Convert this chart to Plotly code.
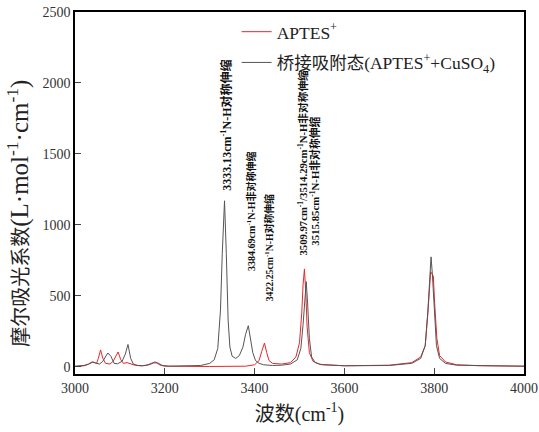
import plotly.graph_objects as go

# Wavenumber (cm^-1) and molar absorption coefficient
x_bridge = [3000, 3010, 3020, 3030, 3038, 3045, 3055, 3062, 3073, 3080, 3087, 3095, 3105, 3112, 3118,
            3124, 3130, 3140, 3150, 3160, 3170, 3178, 3186, 3195, 3210, 3250, 3280, 3300, 3310, 3318,
            3324, 3328, 3333, 3337, 3341, 3345, 3350, 3358, 3366, 3374, 3380, 3386, 3391, 3396, 3402,
            3410, 3420, 3440, 3460, 3480, 3495, 3503, 3508, 3512, 3515, 3518, 3522, 3527, 3535, 3550,
            3600, 3700, 3750, 3770, 3780, 3786, 3790, 3793, 3796, 3800, 3805, 3812, 3825, 3850, 3900, 4000]
y_bridge = [5, 6, 10, 20, 35, 28, 20, 40, 98, 75, 25, 22, 40, 90, 158,
            60, 20, 10, 8, 12, 25, 35, 25, 10, 5, 6, 10, 25, 50, 130,
            400, 800, 1170, 800, 330, 140, 75, 60, 80, 140, 230, 290, 200, 100, 45,
            25, 15, 10, 12, 20, 50, 130, 300, 520, 600, 450, 200, 70, 30, 15,
            8, 10, 25, 60, 150, 400, 680, 775, 650, 380, 150, 60, 25, 12, 8, 5]

x_aptes = [3000, 3020, 3030, 3040, 3048, 3052, 3057, 3062, 3068, 3078, 3085, 3096, 3102, 3108, 3116,
           3124, 3135, 3150, 3165, 3175, 3182, 3190, 3200, 3300, 3380, 3400, 3410, 3416, 3422, 3427,
           3432, 3440, 3460, 3480, 3492, 3500, 3505, 3508, 3511, 3514, 3517, 3522, 3530, 3545, 3600,
           3700, 3750, 3770, 3780, 3786, 3790, 3792, 3795, 3798, 3801, 3806, 3812, 3825, 3850, 3900, 4000]
y_aptes = [3, 8, 18, 35, 25, 60, 120, 60, 25, 20, 40, 105, 50, 25, 30,
           20, 10, 8, 15, 28, 28, 12, 5, 3, 5, 15, 45, 110, 168, 100,
           45, 25, 20, 30, 70, 170, 380, 580, 690, 520, 280, 100, 40, 18, 8,
           12, 30, 70, 150, 380, 640, 670, 655, 640, 450, 200, 80, 35, 15, 8, 5]

# Peak annotations: position of text start, label parts, font size
ann_x = [3337, 3393, 3432, 3507, 3535]
ann_y = [1225, 662, 451, 768, 838]
ann_num = ["3333.13cm<sup>-1</sup>", "3384.69cm<sup>-1</sup>", "3422.25cm<sup>-1</sup>",
           "3509.97cm<sup>-1</sup>/3514.29cm<sup>-1</sup>", "3515.85cm<sup>-1</sup>"]
ann_txt = ["N-H对称伸缩", "N-H非对称伸缩", "N-H对称伸缩", "N-H非对称伸缩", "N-H非对称伸缩"]
ann_size = [12, 10, 9.8, 10.7, 10.8]

x_ticks = [3000, 3200, 3400, 3600, 3800, 4000]
y_ticks = [0, 500, 1000, 1500, 2000, 2500]

SERIF = "Liberation Serif, Noto Sans CJK SC, serif"

fig = go.Figure()
fig.add_trace(go.Scatter(x=x_aptes, y=y_aptes, mode="lines", name="APTES<sup>+</sup>",
                         line=dict(color="#e8262b", width=1), legendgroup="a"))
fig.add_trace(go.Scatter(x=x_bridge, y=y_bridge, mode="lines",
                         name="桥接吸附态(APTES<sup>+</sup>+CuSO<sub>4</sub>)",
                         line=dict(color="#555555", width=1), legendgroup="b"))

for xa, ya, num, txt, sz in zip(ann_x, ann_y, ann_num, ann_txt, ann_size):
    fig.add_annotation(x=xa, y=ya, xref="x", yref="y", text="<b>" + num + txt + "</b>",
                       textangle=-90, showarrow=False, xanchor="center", yanchor="bottom",
                       font=dict(family="Liberation Serif, Noto Sans CJK SC", size=sz, color="#111111"))

# y-axis title placed as a rotated annotation so it can be centred like the reference
fig.add_annotation(x=-0.125, y=0.445, xref="paper", yref="paper",
                   text="摩尔吸光系数<span style='font-size:25px'>(L·mol<sup>-1</sup>·cm<sup>-1</sup>)</span>",
                   textangle=-90, showarrow=False, xanchor="center", yanchor="middle",
                   font=dict(family=SERIF, size=20, color="#222222"))

fig.update_layout(
    width=539, height=432,
    margin=dict(l=75, r=15, t=12, b=58, autoexpand=False),
    paper_bgcolor="white", plot_bgcolor="white",
    font=dict(family=SERIF, color="#222222"),
    showlegend=True,
    legend=dict(x=0.36, y=0.995, xanchor="left", yanchor="top",
                bgcolor="rgba(0,0,0,0)", font=dict(family=SERIF, size=17.5, color="#222222"),
                tracegroupgap=5),
    xaxis=dict(range=[3000, 4000], tickvals=x_ticks, ticks="inside", ticklen=6,
               showline=True, linecolor="black", linewidth=1.5, mirror=True,
               showgrid=False, zeroline=False, tickfont=dict(size=14, color="#333333"),
               title=dict(text="波数(cm<sup>-1</sup>)", font=dict(size=20, color="#222222"), standoff=12)),
    yaxis=dict(range=[-50, 2500], tickvals=y_ticks, ticks="inside", ticklen=6,
               showline=True, linecolor="black", linewidth=1.5, mirror=True,
               showgrid=False, zeroline=False, tickfont=dict(size=14, color="#333333")),
)

fig.write_html("out.html")
